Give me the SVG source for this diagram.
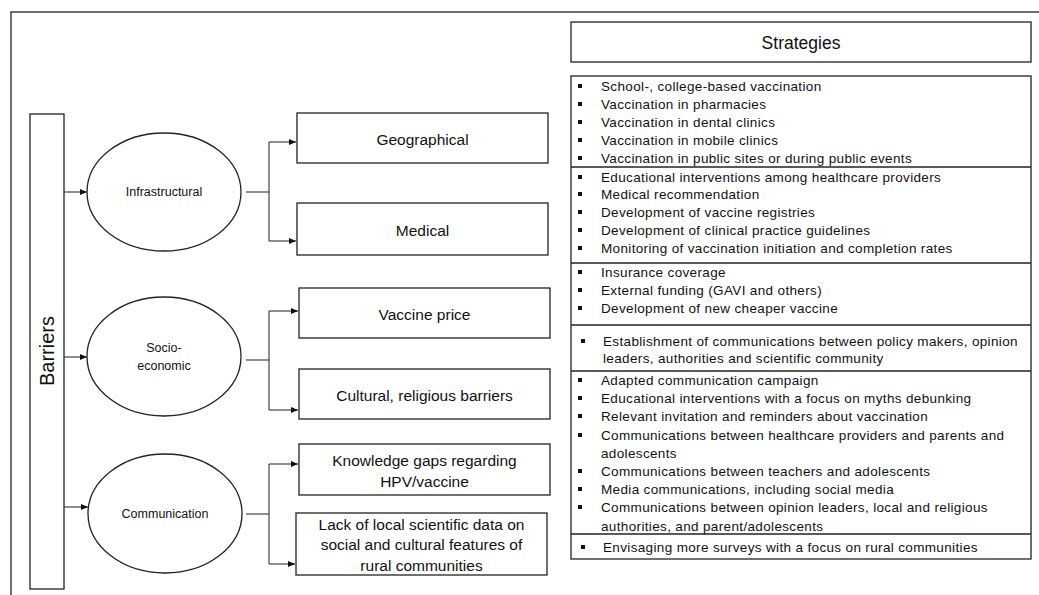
<svg xmlns="http://www.w3.org/2000/svg" width="1039" height="595" viewBox="0 0 1039 595">
<style>
.box{fill:#fff;stroke:#222;stroke-width:1.3}
.con{fill:none;stroke:#333;stroke-width:1.1}
text{font-family:"Liberation Sans",Arial,sans-serif;fill:#111}
.lbl{font-size:15.5px;text-anchor:middle;dominant-baseline:central}
.ell{font-size:12.5px;text-anchor:middle;dominant-baseline:central}
.it{font-size:13.5px;letter-spacing:0.35px;dominant-baseline:central}
.bul{fill:#111}
</style>
<defs>
<marker id="ah" markerWidth="8" markerHeight="8" refX="7" refY="4" orient="auto" markerUnits="userSpaceOnUse">
<path d="M0,1 L7,4 L0,7 Z" fill="#111"/>
</marker>
</defs>
<rect x="0" y="0" width="1039" height="595" fill="#fff"/>
<rect x="11" y="12" width="1040" height="600" fill="none" stroke="#222" stroke-width="1.3"/>

<g id="barriers">
<rect class="box" x="30" y="114" width="34" height="475"/>
<text x="47" y="351" font-size="20" text-anchor="middle" dominant-baseline="central" transform="rotate(-90 47 351)">Barriers</text>
</g>

<g id="infrastructural">
<ellipse class="box" cx="164" cy="192" rx="77" ry="59"/>
<text class="ell" x="164" y="192">Infrastructural</text>
</g>
<g id="socioeconomic">
<ellipse class="box" cx="164" cy="356.5" rx="77" ry="59.5"/>
<text class="ell" x="164" y="348">Socio-</text>
<text class="ell" x="164" y="366">economic</text>
</g>
<g id="communication">
<ellipse class="box" cx="165" cy="513.5" rx="77" ry="59.5"/>
<text class="ell" x="165" y="514">Communication</text>
</g>

<g id="geographical">
<rect class="box" x="297" y="113" width="251" height="50"/>
<text class="lbl" x="422.5" y="139">Geographical</text>
</g>
<g id="medical">
<rect class="box" x="297" y="203" width="251" height="52"/>
<text class="lbl" x="422.5" y="230">Medical</text>
</g>
<g id="vaccineprice">
<rect class="box" x="299" y="288" width="251" height="50"/>
<text class="lbl" x="424.5" y="314">Vaccine price</text>
</g>
<g id="cultural">
<rect class="box" x="299" y="369" width="251" height="50"/>
<text class="lbl" x="424.5" y="395">Cultural, religious barriers</text>
</g>
<g id="knowledge">
<rect class="box" x="299" y="444" width="251" height="51"/>
<text class="lbl" x="424.5" y="460">Knowledge gaps regarding</text>
<text class="lbl" x="424.5" y="481">HPV/vaccine</text>
</g>
<g id="lackdata">
<rect class="box" x="296" y="513" width="251" height="62"/>
<text class="lbl" x="421.5" y="524">Lack of local scientific data on</text>
<text class="lbl" x="421.5" y="544">social and cultural features of</text>
<text class="lbl" x="421.5" y="565">rural communities</text>
</g>

<g id="strategies">
<rect class="box" x="571" y="22" width="460" height="40"/>
<text x="801" y="43" font-size="17.5" text-anchor="middle" dominant-baseline="central">Strategies</text>
</g>

<g id="strategy-list">
<rect class="box" x="571" y="76" width="460" height="483"/>
<line x1="571" y1="167" x2="1031" y2="167" stroke="#222" stroke-width="1.3"/>
<line x1="571" y1="263" x2="1031" y2="263" stroke="#222" stroke-width="1.3"/>
<line x1="571" y1="325" x2="1031" y2="325" stroke="#222" stroke-width="1.3"/>
<line x1="571" y1="371" x2="1031" y2="371" stroke="#222" stroke-width="1.3"/>
<line x1="571" y1="534" x2="1031" y2="534" stroke="#222" stroke-width="1.3"/>
<g class="bul">
<rect x="578" y="84" width="4" height="4"/>
<rect x="578" y="102" width="4" height="4"/>
<rect x="578" y="120" width="4" height="4"/>
<rect x="578" y="138" width="4" height="4"/>
<rect x="578" y="156" width="4" height="4"/>
<rect x="578" y="175" width="4" height="4"/>
<rect x="578" y="192" width="4" height="4"/>
<rect x="578" y="210" width="4" height="4"/>
<rect x="578" y="228" width="4" height="4"/>
<rect x="578" y="246" width="4" height="4"/>
<rect x="578" y="270" width="4" height="4"/>
<rect x="578" y="288" width="4" height="4"/>
<rect x="578" y="306" width="4" height="4"/>
<rect x="581" y="339" width="4" height="4"/>
<rect x="578" y="378" width="4" height="4"/>
<rect x="578" y="396" width="4" height="4"/>
<rect x="578" y="414" width="4" height="4"/>
<rect x="578" y="433" width="4" height="4"/>
<rect x="578" y="469" width="4" height="4"/>
<rect x="578" y="487" width="4" height="4"/>
<rect x="578" y="505" width="4" height="4"/>
<rect x="581" y="545" width="4" height="4"/>
</g>
<text class="it" x="601" y="86">School-, college-based vaccination</text>
<text class="it" x="601" y="104">Vaccination in pharmacies</text>
<text class="it" x="601" y="122">Vaccination in dental clinics</text>
<text class="it" x="601" y="140">Vaccination in mobile clinics</text>
<text class="it" x="601" y="158">Vaccination in public sites or during public events</text>
<text class="it" x="601" y="177">Educational interventions among healthcare providers</text>
<text class="it" x="601" y="194">Medical recommendation</text>
<text class="it" x="601" y="212">Development of vaccine registries</text>
<text class="it" x="601" y="230">Development of clinical practice guidelines</text>
<text class="it" x="601" y="248">Monitoring of vaccination initiation and completion rates</text>
<text class="it" x="601" y="272">Insurance coverage</text>
<text class="it" x="601" y="290">External funding (GAVI and others)</text>
<text class="it" x="601" y="308">Development of new cheaper vaccine</text>
<text class="it" x="603" y="341">Establishment of communications between policy makers, opinion</text>
<text class="it" x="603" y="358">leaders, authorities and scientific community</text>
<text class="it" x="601" y="380">Adapted communication campaign</text>
<text class="it" x="601" y="398">Educational interventions with a focus on myths debunking</text>
<text class="it" x="601" y="416">Relevant invitation and reminders about vaccination</text>
<text class="it" x="601" y="435">Communications between healthcare providers and parents and</text>
<text class="it" x="601" y="453">adolescents</text>
<text class="it" x="601" y="471">Communications between teachers and adolescents</text>
<text class="it" x="601" y="489">Media communications, including social media</text>
<text class="it" x="601" y="507">Communications between opinion leaders, local and religious</text>
<text class="it" x="601" y="526">authorities, and parent/adolescents</text>
<text class="it" x="603" y="547">Envisaging more surveys with a focus on rural communities</text>
</g>

<g id="connectors">
<line class="con" x1="64" y1="192" x2="87" y2="192" marker-end="url(#ah)"/>
<line class="con" x1="64" y1="357" x2="87" y2="357" marker-end="url(#ah)"/>
<line class="con" x1="64" y1="507" x2="88" y2="507" marker-end="url(#ah)"/>
<line class="con" x1="246" y1="192" x2="269" y2="192"/>
<path class="con" d="M269,142 L269,241"/>
<line class="con" x1="269" y1="142" x2="296" y2="142" marker-end="url(#ah)"/>
<line class="con" x1="269" y1="241" x2="296" y2="241" marker-end="url(#ah)"/>
<line class="con" x1="246" y1="360" x2="269" y2="360"/>
<path class="con" d="M269,311 L269,410"/>
<line class="con" x1="269" y1="311" x2="298" y2="311" marker-end="url(#ah)"/>
<line class="con" x1="269" y1="410" x2="298" y2="410" marker-end="url(#ah)"/>
<line class="con" x1="246" y1="514" x2="269" y2="514"/>
<path class="con" d="M269,464 L269,564"/>
<line class="con" x1="269" y1="464" x2="298" y2="464" marker-end="url(#ah)"/>
<line class="con" x1="269" y1="564" x2="295" y2="564" marker-end="url(#ah)"/>
</g>
</svg>
